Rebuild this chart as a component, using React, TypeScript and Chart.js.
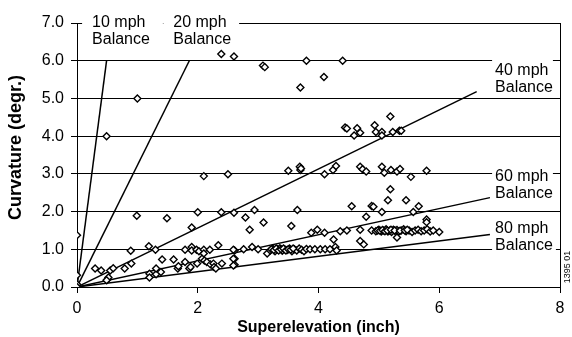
import React, { useEffect, useRef } from 'react';
import { Chart, registerables } from 'chart.js';

Chart.register(...registerables);

// ---- Data ----
// Observed points: [superelevation (inch), curvature (degr.)]
const obsHigh: [number, number][] = [
  [1.0, 5.0], [0.49, 4.0], [2.39, 6.18], [2.6, 6.11], [3.08, 5.87], [3.11, 5.83],
  [3.8, 6.0], [3.7, 5.29], [4.09, 5.57], [4.4, 6.0],
];
const obsFour: [number, number][] = [
  [5.19, 4.52], [4.44, 4.23], [4.47, 4.2], [4.64, 4.21], [4.59, 4.02], [4.69, 4.09],
  [4.93, 4.29], [4.95, 4.11], [5.05, 4.11], [5.05, 4.02], [5.23, 4.11], [5.34, 4.14], [5.37, 4.14],
];
const obsThree: [number, number][] = [
  [2.1, 2.94], [2.5, 2.99], [3.5, 3.08], [3.69, 3.19], [3.7, 3.1], [3.71, 3.14],
  [4.1, 2.99], [4.24, 3.1], [4.29, 3.21], [4.69, 3.19], [4.73, 3.12], [4.79, 3.06],
  [5.05, 3.19], [5.09, 3.03], [5.2, 3.1], [5.3, 3.06], [5.35, 3.13], [5.53, 2.92], [5.79, 3.08],
];
const obsTwo: [number, number][] = [
  [5.19, 2.59], [5.15, 2.3], [5.45, 2.3], [4.55, 2.14], [4.88, 2.15], [4.91, 2.13],
  [5.05, 1.99], [3.65, 2.04], [2.94, 2.04], [2.79, 1.84], [4.79, 1.86], [5.66, 2.14],
  [5.57, 1.99], [5.79, 1.79], [0.99, 1.89], [1.49, 1.82], [2.0, 1.98], [2.39, 1.98],
  [2.6, 1.97], [1.9, 1.58],
];
const obsOneHalf: [number, number][] = [
  [2.86, 1.52], [3.09, 1.71], [3.55, 1.62], [3.88, 1.44], [3.98, 1.52], [4.1, 1.44],
  [4.25, 1.26], [4.36, 1.48], [4.47, 1.5], [4.69, 1.52], [4.69, 1.22], [4.75, 1.13],
  [4.88, 1.5], [5.3, 1.31], [5.79, 1.72], [6.0, 1.46],
  [4.95, 1.48], [5.0, 1.52], [5.04, 1.47], [5.08, 1.5], [5.12, 1.53], [5.15, 1.47],
  [5.18, 1.5], [5.21, 1.46], [5.24, 1.52], [5.27, 1.49], [5.3, 1.51], [5.33, 1.47],
  [5.37, 1.5], [5.41, 1.53], [5.45, 1.48], [5.5, 1.5], [5.55, 1.46], [5.6, 1.5],
  [5.65, 1.52], [5.7, 1.48], [5.75, 1.5], [5.8, 1.53], [5.85, 1.47], [5.9, 1.5],
  [4.98, 1.5], [5.02, 1.49], [5.06, 1.51], [5.1, 1.48], [5.14, 1.5], [5.2, 1.52],
  [5.26, 1.5], [5.35, 1.49], [5.43, 1.5], [5.47, 1.52],
];
const obsOne: [number, number][] = [
  [2.61, 0.97], [2.61, 0.75], [2.61, 0.59], [2.76, 1.0], [2.9, 1.06], [3.0, 1.0], [3.15, 0.89],
  [3.2, 0.97], [3.24, 1.02], [3.28, 0.95], [3.32, 1.0], [3.36, 1.03], [3.4, 0.96],
  [3.44, 1.0], [3.48, 0.98], [3.52, 1.02], [3.56, 0.95], [3.6, 1.0], [3.64, 0.97],
  [3.68, 1.02], [3.72, 0.99], [3.76, 0.95], [3.8, 1.01], [3.86, 1.0], [3.94, 1.0],
  [4.03, 1.0], [4.11, 1.0], [4.19, 1.0], [4.28, 1.06], [4.3, 0.97],
  [3.22, 1.0], [3.26, 0.98], [3.3, 1.02], [3.34, 0.97], [3.38, 1.0], [3.42, 1.02],
  [3.46, 0.97], [3.5, 1.0], [3.54, 0.99], [3.58, 1.02],
];
const obsLow: [number, number][] = [
  [0, 1.37], [0, 0.31], [0, 0.07], [0, 0],
  [0.89, 0.96], [1.19, 1.08], [1.3, 0.99], [0.3, 0.49], [0.4, 0.44], [0.55, 0.44],
  [0.6, 0.5], [0.79, 0.49], [0.9, 0.62], [0.5, 0.19], [0.52, 0.25], [1.2, 0.35],
  [1.2, 0.25], [1.31, 0.34], [1.31, 0.49], [1.41, 0.73], [1.39, 0.4], [1.6, 0.73],
  [1.67, 0.49], [1.68, 0.55], [1.79, 0.66], [1.79, 0.99], [1.9, 1.06], [1.9, 0.97],
  [1.98, 0.99], [2.02, 0.95], [2.1, 0.99], [2.1, 0.89], [2.2, 0.99], [2.34, 1.11],
  [1.86, 0.49], [1.88, 0.53], [1.99, 0.62], [2.07, 0.75], [2.11, 0.7], [2.15, 0.66],
  [2.21, 0.6], [2.26, 0.62], [2.27, 0.53], [2.3, 0.49], [2.4, 0.62], [2.59, 0.57],
  [2.59, 0.75], [2.59, 0.99], [0.49, 0.18],
];

// Balance lines from the origin to these end points
const balanceSpeeds = ['10 mph', '20 mph', '40 mph', '60 mph', '80 mph'];
const balanceEndX = [0.49, 1.86, 6.62, 6.84, 6.84];
const balanceEndY = [6.0, 6.0, 5.18, 2.37, 1.39];

const xTickValues = [0, 2, 4, 6, 8];
const yTickValues = [0, 1, 2, 3, 4, 5, 6, 7];

const xTitle = 'Superelevation (inch)';
const yTitle = 'Curvature (degr.)';
const figureId = '1395 01';

// ---- Label placement (styling, kept separate from data) ----
const labelPlacement = [
  { x: 0.25, y: 6.9, padL: 10, padR: 13 },
  { x: 1.595, y: 6.9, padL: 10, padR: 8 },
  { x: 6.925, y: 5.63, padL: 3, padR: 0 },
  { x: 6.925, y: 2.82, padL: 3, padR: 0 },
  { x: 6.925, y: 1.43, padL: 3, padR: 3 },
];

const FONT = '"Liberation Sans", Arial, Helvetica, sans-serif';

const annotations = {
  id: 'annotations',
  afterDraw(chart: any) {
    const { ctx, chartArea, scales } = chart;
    const xs = scales.x;
    const ys = scales.y;
    ctx.save();
    // right frame line
    ctx.strokeStyle = '#000';
    ctx.lineWidth = 1;
    const rx = Math.round(chartArea.right) + 0.5;
    ctx.beginPath();
    ctx.moveTo(rx, chartArea.top);
    ctx.lineTo(rx, chartArea.bottom + 1);
    ctx.stroke();

    // balance labels with white boxes
    ctx.font = '16px ' + FONT;
    balanceSpeeds.forEach((t, i) => {
      const L = labelPlacement[i];
      const px = xs.getPixelForValue(L.x);
      const py = ys.getPixelForValue(L.y);
      const w = Math.max(ctx.measureText(t).width, ctx.measureText('Balance').width);
      ctx.fillStyle = '#fff';
      ctx.fillRect(px - L.padL, py - 18, w + L.padL + L.padR, 40);
      ctx.fillStyle = '#000';
      ctx.textAlign = 'left';
      ctx.textBaseline = 'alphabetic';
      ctx.fillText(t, px, py);
      ctx.fillText('Balance', px, py + 17);
    });

    // y-axis title
    ctx.font = 'bold 18px ' + FONT;
    ctx.textAlign = 'center';
    ctx.textBaseline = 'middle';
    ctx.translate(16, (chartArea.top + chartArea.bottom) / 2 - 7.5);
    ctx.rotate(-Math.PI / 2);
    ctx.fillText(yTitle, 0, 0);
    ctx.restore();

    // figure id
    ctx.save();
    ctx.font = '9px ' + FONT;
    ctx.fillStyle = '#000';
    ctx.textAlign = 'center';
    ctx.textBaseline = 'middle';
    ctx.translate(chartArea.right + 8, chartArea.bottom - 20);
    ctx.rotate(-Math.PI / 2);
    ctx.fillText(figureId, 0, 0);
    ctx.restore();
  },
};

export default function App() {
  const ref = useRef<HTMLCanvasElement | null>(null);

  useEffect(() => {
    if (!ref.current) return;
    const allObs = [...obsHigh, ...obsFour, ...obsThree, ...obsTwo, ...obsOneHalf, ...obsOne, ...obsLow];
    const lineSets = balanceSpeeds.map((s, i) => ({
      type: 'line' as const,
      label: s + ' Balance',
      data: [
        { x: 0, y: 0 },
        { x: balanceEndX[i], y: balanceEndY[i] },
      ],
      borderColor: '#000',
      borderWidth: 1.5,
      pointRadius: 0,
      showLine: true,
      fill: false,
      tension: 0,
    }));
    const chart = new Chart(ref.current, {
      type: 'scatter',
      data: {
        datasets: [
          {
            label: 'Observed',
            data: allObs.map(([x, y]) => ({ x, y })),
            pointStyle: 'rectRot',
            pointRadius: 3.5,
            borderWidth: 1.4,
            borderColor: '#000',
            backgroundColor: '#fff',
          } as any,
          ...lineSets,
        ],
      },
      options: {
        animation: false,
        responsive: false,
        maintainAspectRatio: false,
        layout: { padding: { top: 23, right: 12, left: 0, bottom: 0 } },
        plugins: { legend: { display: false }, tooltip: { enabled: false } },
        scales: {
          x: {
            type: 'linear',
            min: 0,
            max: 8,
            afterBuildTicks: (s: any) => {
              s.ticks = xTickValues.map((v) => ({ value: v }));
            },
            afterFit: (s: any) => {
              s.height = 50;
            },
            ticks: {
              font: { size: 16, family: FONT },
              color: '#000',
              padding: 6,
              maxRotation: 0,
            },
            grid: { drawOnChartArea: false, drawTicks: true, tickLength: 6, color: '#000' },
            border: { display: true, color: '#000', width: 1 },
            title: {
              display: true,
              text: xTitle,
              color: '#000',
              font: { size: 16, weight: 'bold', family: FONT },
              padding: { top: 0, bottom: 0 },
            },
          },
          y: {
            type: 'linear',
            min: 0,
            max: 7,
            afterBuildTicks: (s: any) => {
              s.ticks = yTickValues.map((v) => ({ value: v }));
            },
            afterFit: (s: any) => {
              s.width = 77;
            },
            ticks: {
              font: { size: 16, family: FONT },
              color: '#000',
              padding: 7,
              callback: (v: any) => Number(v).toFixed(1),
            },
            grid: { drawOnChartArea: true, drawTicks: true, tickLength: 6, color: '#000', lineWidth: 1 },
            border: { display: true, color: '#000', width: 1 },
          },
        },
      },
      plugins: [annotations],
    });
    return () => chart.destroy();
  }, []);

  return (
    <div style={{ position: 'absolute', left: 0, top: 0, width: 572, height: 337, background: '#fff' }}>
      <canvas ref={ref} width={572} height={337} style={{ width: 572, height: 337 }} />
    </div>
  );
}
